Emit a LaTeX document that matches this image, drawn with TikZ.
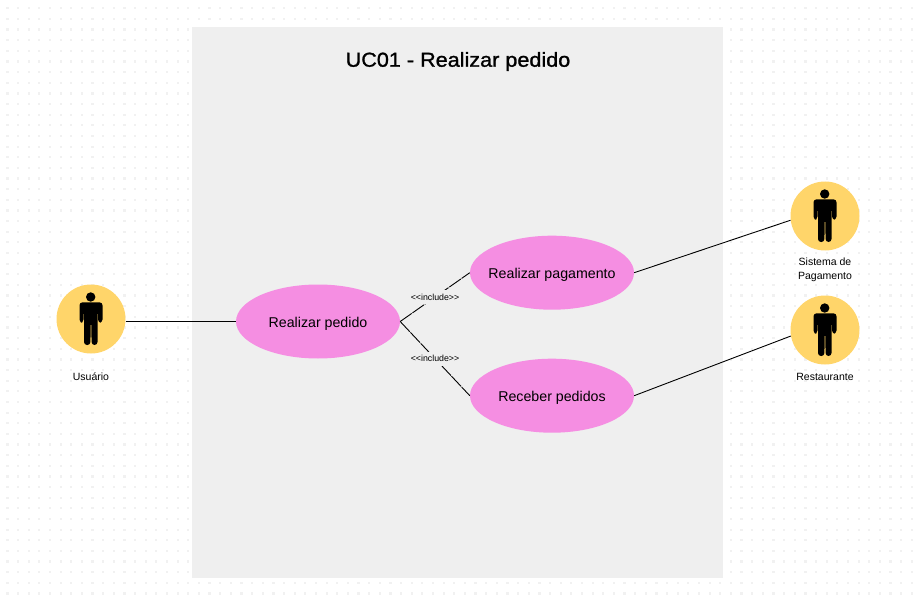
\documentclass[tikz,border=0pt]{standalone}
\usepackage{fontspec}
\setmainfont{Liberation Sans}
\newfontfamily\titlefont[FakeBold=1.2,FakeStretch=1.07]{Liberation Sans}
\definecolor{dotc}{HTML}{F1F1F1}
\definecolor{panelc}{HTML}{EFEFEF}
\definecolor{pinkc}{HTML}{F58EE2}
\definecolor{yelc}{HTML}{FFD56A}
\usetikzlibrary{shapes.geometric}
\newcommand{\uctext}[1]{\raisebox{-5.5pt}[0pt][0pt]{\makebox[0pt]{#1}}}
\tikzset{
  x=1pt,y=-1pt,
  usecase/.style={ellipse,fill=pinkc,minimum width=164pt,minimum height=74pt,inner sep=0pt,font=\fontsize{14.2}{16}\selectfont},
  actor/.style={circle,fill=yelc,minimum size=69pt,inner sep=0pt},
  actorlabel/.style={font=\fontsize{10.5}{14.5}\selectfont,align=center,inner sep=0pt},
  assoc/.style={draw=black,line width=0.9pt},
  incl/.style={draw=black,line width=0.9pt,dash pattern=on 14pt off 1pt},
  incllabel/.style={fill=panelc,font=\fontsize{8.8}{9}\selectfont,inner xsep=1pt,inner ysep=0pt,minimum height=14pt},
  pics/figure/.style={code={
    \fill[black] (-0.3,-22) circle (4.7);
    \fill[black,rounded corners=3pt] (-11.5,-16.7) -- (11.5,-16.7) -- (11.5,3.5) -- (7,3.5) -- (7,-8) -- (6.5,-8) -- (6.5,26) -- (0.6,26) -- (0.3,3) -- (-0.3,3) -- (-0.6,26) -- (-7,26) -- (-7,-8) -- (-7.5,-8) -- (-7.5,3.5) -- (-11.5,3.5) -- cycle;
  }}
}
\begin{document}
\begin{tikzpicture}
\useasboundingbox (0,0) rectangle (919,599);
\fill[white] (0,0) rectangle (919,599);
\foreach \i in {0,...,85}{\foreach \j in {0,...,55}{
  \fill[dotc] ({6.3+10.64*\i},{7.2+10.64*\j}) rectangle +(2.2,2.2);
}}
\fill[panelc] (192,27) rectangle (723,578);
\node[font=\fontsize{20.2}{24}\titlefont] (title) at (458,61.5) {UC01 - Realizar pedido};
\node[actor] (user) at (91,319) {};
\node[actor] (pay) at (825,216) {};
\node[actor] (rest) at (825,330) {};
\pic at (91,319) {figure};
\pic at (825,216) {figure};
\pic at (825,330) {figure};
\node[actorlabel] (userlabel) at (91,376.5) {Usuário};
\node[actorlabel] (paylabel) at (825,270) {Sistema de\\Pagamento};
\node[actorlabel] (restlabel) at (825,376.5) {Restaurante};
\node[usecase] (pedido) at (318,321.5) {\uctext{Realizar pedido}};
\node[usecase] (pagamento) at (552,272.7) {\uctext{Realizar pagamento}};
\node[usecase] (receber) at (552,395.7) {\uctext{Receber pedidos}};
\draw[assoc] (user.east |- pedido.west) -- (pedido.west);
\draw[assoc] (pagamento.east) -- (pay.187);
\draw[assoc] (receber.east) -- (rest.190);
\draw[incl] (pedido.east) -- (pagamento.west) node[incllabel,pos=0.5] (inc1) {{<}{<}include{>}{>}};
\draw[incl] (pedido.east) -- (receber.west) node[incllabel,pos=0.5] (inc2) {{<}{<}include{>}{>}};
\end{tikzpicture}
\end{document}
